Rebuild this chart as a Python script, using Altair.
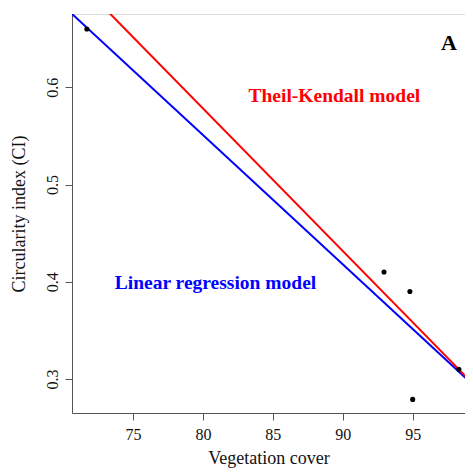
import altair as alt
import pandas as pd

# Observed points
veg_cover = [71.7, 92.95, 94.8, 95.0, 98.3]
circularity = [0.660, 0.410, 0.390, 0.279, 0.310]

# Model lines (endpoints, clipped to the plot)
line_model = ["Linear regression", "Linear regression", "Theil-Kendall", "Theil-Kendall"]
line_x = [70.0, 100.0, 70.0, 100.0]
line_y = [0.684, 0.285, 0.725, 0.285]

# Annotations
ann_text = ["Theil-Kendall model", "Linear regression model", "A"]
ann_x = [89.4, 80.9, 97.6]
ann_y = [0.591, 0.399, 0.6456]
ann_color = ["#FF0000", "#0000FF", "#000000"]
ann_size = [19.5, 19.5, 22]

XDOM = [70.64, 98.74]
YDOM = [0.265, 0.6754]
FONT = "Liberation Serif"

pts = pd.DataFrame({"x": veg_cover, "y": circularity})
lines = pd.DataFrame({"model": line_model, "x": line_x, "y": line_y})
ann = pd.DataFrame({"t": ann_text, "x": ann_x, "y": ann_y, "c": ann_color, "s": ann_size})

xscale = alt.Scale(domain=XDOM, nice=False, zero=False)
yscale = alt.Scale(domain=YDOM, nice=False, zero=False)

xaxis = alt.Axis(values=[75, 80, 85, 90, 95], title="Vegetation cover", grid=False,
                 tickSize=7, tickColor="#555", domainColor="#555", labelPadding=6,
                 labelFont=FONT, labelFontSize=16, labelColor="#111", titleFont=FONT,
                 titleFontSize=18, titleFontWeight="normal", titleColor="#111",
                 titlePadding=7, labelFlush=False)
yaxis = alt.Axis(values=[0.3, 0.4, 0.5, 0.6], title="Circularity index (CI)", grid=False,
                 tickSize=7, tickColor="#555", domainColor="#555", labelPadding=5,
                 labelAngle=-90, labelAlign="center", labelBaseline="bottom",
                 labelFont=FONT, labelFontSize=16, labelColor="#111", titleFont=FONT,
                 titleFontSize=18, titleFontWeight="normal", titleColor="#111",
                 titlePadding=16, format=".1f", labelFlush=False)

base_x = alt.X("x:Q", scale=xscale, axis=xaxis)
base_y = alt.Y("y:Q", scale=yscale, axis=yaxis)

line_layer = alt.Chart(lines).mark_line(strokeWidth=2, clip=True).encode(
    x=base_x, y=base_y,
    color=alt.Color("model:N", scale=alt.Scale(domain=["Linear regression", "Theil-Kendall"],
                                                 range=["#0000FF", "#FF0000"]), legend=None),
    detail="model:N",
)

pt_layer = alt.Chart(pts).mark_circle(size=26, color="black", opacity=1).encode(x="x:Q", y="y:Q")

text_layer = alt.Chart(ann).mark_text(font=FONT, fontWeight="bold").encode(
    x="x:Q", y="y:Q", text="t:N",
    color=alt.Color("c:N", scale=None),
    size=alt.Size("s:Q", scale=None),
)

chart = alt.layer(line_layer, pt_layer, text_layer).properties(
    width=393, height=399,
    autosize=alt.AutoSizeParams(type="none"),
    padding={"left": 64, "top": 6, "right": 0, "bottom": 56},
).configure_view(stroke="#555", strokeWidth=1.2).configure(background="white")

chart.save("out.html", embed_options={"renderer": "svg", "actions": False})
